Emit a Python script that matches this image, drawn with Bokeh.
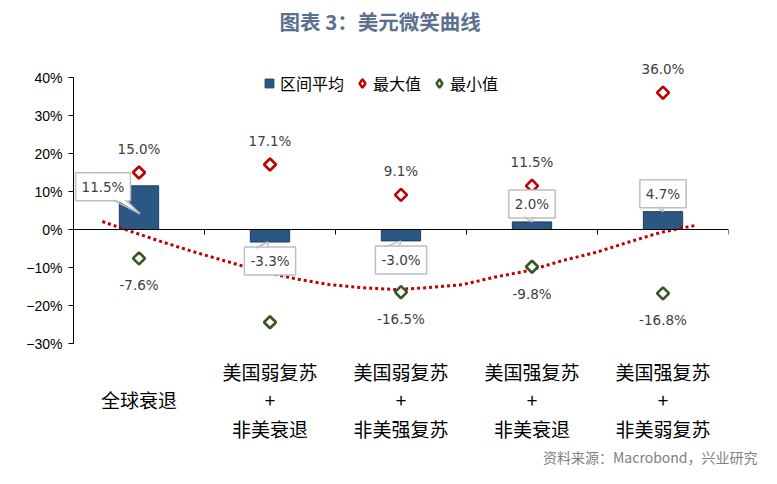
import numpy as np
from bokeh.plotting import figure
from bokeh.models import (Range1d, FixedTicker, Span, Label, Legend, LegendItem,
                          Title, ColumnDataSource)
from bokeh.core.properties import value
from bokeh.embed import file_html
from bokeh.resources import INLINE

# ---------------- data ----------------
title_text = "图表 3：美元微笑曲线"
source_text = "资料来源：Macrobond，兴业研究"
categories = ["全球衰退",
              "美国弱复苏\n+\n非美衰退",
              "美国弱复苏\n+\n非美强复苏",
              "美国强复苏\n+\n非美衰退",
              "美国强复苏\n+\n非美弱复苏"]
series_names = ["区间平均", "最大值", "最小值"]
avg_vals = [11.5, -3.3, -3.0, 2.0, 4.7]
max_vals = [15.0, 17.1, 9.1, 11.5, 36.0]
min_vals = [-7.6, -24.4, -16.5, -9.8, -16.8]
# dotted trend curve (x in category units, y in %)
trend_x = [0.22, 0.42, 0.68, 0.93, 1.19, 1.44, 1.70, 1.95, 2.20, 2.46,
           2.71, 2.97, 3.22, 3.48, 3.73, 3.99, 4.24, 4.49, 4.75]
trend_y = [2.1, -0.3, -3.3, -6.0, -8.6, -11.1, -13.0, -14.5, -15.3, -15.8,
           -15.3, -14.5, -12.5, -10.8, -8.2, -6.0, -3.3, -0.7, 1.1]
y_ticks = [-30, -20, -10, 0, 10, 20, 30, 40]

# ---------------- layout constants ----------------
W, H = 761, 468
BL, BR, BT, BB = 73, 33, 58, 125
Y0, Y1 = -30, 45
n = len(categories)
frame_w = W - BL - BR
frame_h = H - BT - BB
px_x = frame_w / n
px_y = frame_h / (Y1 - Y0)

centers = [i + 0.5 for i in range(n)]
bounds_x = [i + 1 for i in range(n)]

BAR_FILL = "#2A5783"
BAR_LINE = "#1D3F62"
RED = "#C00000"
GREEN = "#375623"
TXT = "#404040"

p = figure(width=W, height=H, x_range=Range1d(0, n), y_range=Range1d(Y0, Y1),
           output_backend="svg", toolbar_location=None,
           min_border_left=BL, min_border_right=BR,
           min_border_top=BT, min_border_bottom=BB)
p.outline_line_color = None
p.xgrid.grid_line_color = None
p.ygrid.grid_line_color = None
p.background_fill_color = "white"
p.border_fill_color = "white"
# off-screen range used only by the legend proxy glyphs
p.extra_y_ranges = {"legend_proxy": Range1d(1000, 1001)}

# spacer between the frame and the main title
p.add_layout(Title(text=" ", standoff=20, text_font_size="1px"), "above")

# title
p.title.text = title_text
p.title.align = "left"
p.title.offset = 206
p.title.standoff = 0
p.title.text_font = "Noto Sans CJK SC"
p.title.text_font_size = "20.5px"
p.title.text_font_style = "bold"
p.title.text_color = "#5B7090"

# source note below the axis labels
p.add_layout(Title(text=source_text, align="right", offset=-29, standoff=0,
                   text_font="Noto Sans CJK SC", text_font_size="14px",
                   text_font_style="normal", text_color="#808080"), "below")

# y axis
yax = p.yaxis[0]
yax.ticker = FixedTicker(ticks=y_ticks)
yax.major_label_overrides = {t: (f"{t}%" if t >= 0 else f"\u2212{abs(t)}%") for t in y_ticks}
yax.bounds = (min(y_ticks), max(y_ticks))
yax.axis_line_color = "black"
yax.axis_line_width = 1
yax.major_tick_out = 5
yax.major_tick_in = 0
yax.major_tick_line_color = "black"
yax.minor_tick_line_color = None
yax.major_label_standoff = 6
yax.major_label_text_font = "Liberation Sans"
yax.major_label_text_font_size = "14px"
yax.major_label_text_color = "black"

# x axis (labels only)
xax = p.xaxis[0]
xax.ticker = FixedTicker(ticks=centers)
labels = list(categories)
labels[0] = "\u3000\n" + labels[0] + "\n\u3000"
xax.major_label_overrides = {c: lab for c, lab in zip(centers, labels)}
xax.axis_line_color = None
xax.major_tick_line_color = None
xax.minor_tick_line_color = None
xax.major_tick_out = 0
xax.major_tick_in = 0
xax.major_label_standoff = 14
xax.major_label_text_font = "Noto Sans CJK SC"
xax.major_label_text_font_size = "19px"
xax.major_label_text_line_height = 1.06
xax.major_label_text_color = "black"

# zero line with category-boundary ticks
p.add_layout(Span(location=0, dimension="width", line_color="black", line_width=1))
p.segment(x0=bounds_x, y0=[0] * n, x1=bounds_x, y1=[-5 / px_y] * n,
          line_color="black", line_width=1)

# bars
src = ColumnDataSource(dict(x=centers, avg=avg_vals, mx=max_vals, mn=min_vals,
                            mx_lab=[f"{v:.1f}%" for v in max_vals],
                            mn_lab=[f"{v:.1f}%" for v in min_vals]))
bar_r = p.vbar(x="x", top="avg", bottom=0, width=0.3, source=src,
               fill_color=BAR_FILL, line_color=BAR_LINE, line_width=1)

# trend curve
p.line(trend_x, trend_y, line_color=RED, line_width=3, line_dash="3 3", line_cap="butt")

# markers
max_r = p.scatter(x="x", y="mx", source=src, marker="square", angle=np.pi / 4,
                  size=8.5, fill_color="white", line_color=RED, line_width=2.6)
min_r = p.scatter(x="x", y="mn", source=src, marker="square", angle=np.pi / 4,
                  size=8.5, fill_color="white", line_color=GREEN, line_width=2.6)

p.text(x="x", y="mx", text="mx_lab", source=src, y_offset=-24,
       text_align="center", text_baseline="middle", text_font=value("DejaVu Sans"),
       text_font_size="13.5px", text_color=TXT)
p.text(x="x", y="mn", text="mn_lab", source=src, y_offset=27,
       text_align="center", text_baseline="middle", text_font=value("DejaVu Sans"),
       text_font_size="13.5px", text_color=TXT)

# callout boxes for averages (pixel offsets relative to bar end, y down)
box_dx = [-36, 0, 0, 0, 0]
box_dy = [1, 19, 19, -18, -18]
tip = [(1, 28), (-2, 0), (0, 0), (0, 0), (0, 0)]
base = [(-26, -14, 14), (-14, -2, 6), (-16, -2, 6), (-8, 1, -5), (-6, 0, -5)]
BOX_LINE = "#BFBFBF"
for i, (c, v) in enumerate(zip(centers, avg_vals)):
    p.add_layout(Label(x=c, y=v, x_offset=box_dx[i], y_offset=-box_dy[i],
                       text=f"{v:.1f}%", text_align="center", text_baseline="middle",
                       text_font="DejaVu Sans", text_font_size="13.5px", text_color=TXT,
                       background_fill_color="white", border_line_color=BOX_LINE,
                       border_line_width=1.5, padding=6))
    tx, ty = tip[i]
    b1, b2, by = base[i]
    inward = 2 if by > 0 else -2
    def X(dx):
        return c + dx / px_x
    def Y(dy):
        return v - dy / px_y
    p.patch([X(b1), X(tx), X(b2)], [Y(by - inward), Y(ty), Y(by - inward)],
            fill_color="white", line_color=None, level="overlay")
    p.line([X(b1), X(tx), X(b2)], [Y(by), Y(ty), Y(by)],
           line_color=BOX_LINE, line_width=1.5, level="overlay")

# legend proxies: same data, drawn on an off-screen range, only define legend glyphs
bar_proxy = p.scatter(x="x", y="avg", source=src, y_range_name="legend_proxy",
                      marker="square", size=8, fill_color=BAR_FILL, line_color=BAR_LINE)
max_proxy = p.scatter(x="x", y="mx", source=src, y_range_name="legend_proxy",
                      marker="diamond", size=8, fill_color="white",
                      line_color=RED, line_width=2.5)
min_proxy = p.scatter(x="x", y="mn", source=src, y_range_name="legend_proxy",
                      marker="diamond", size=8, fill_color="white",
                      line_color=GREEN, line_width=2.5)
legend = Legend(items=[LegendItem(label=series_names[0], renderers=[bar_proxy]),
                       LegendItem(label=series_names[1], renderers=[max_proxy]),
                       LegendItem(label=series_names[2], renderers=[min_proxy])],
                orientation="horizontal", location=(185, 248),
                label_text_font="Noto Sans CJK SC", label_text_font_size="16px",
                label_text_color="black", glyph_width=22, glyph_height=22,
                label_standoff=0, spacing=7, padding=0, margin=0,
                border_line_color=None, background_fill_alpha=0)
p.add_layout(legend)

open("out.html", "w").write(file_html(p, INLINE))
